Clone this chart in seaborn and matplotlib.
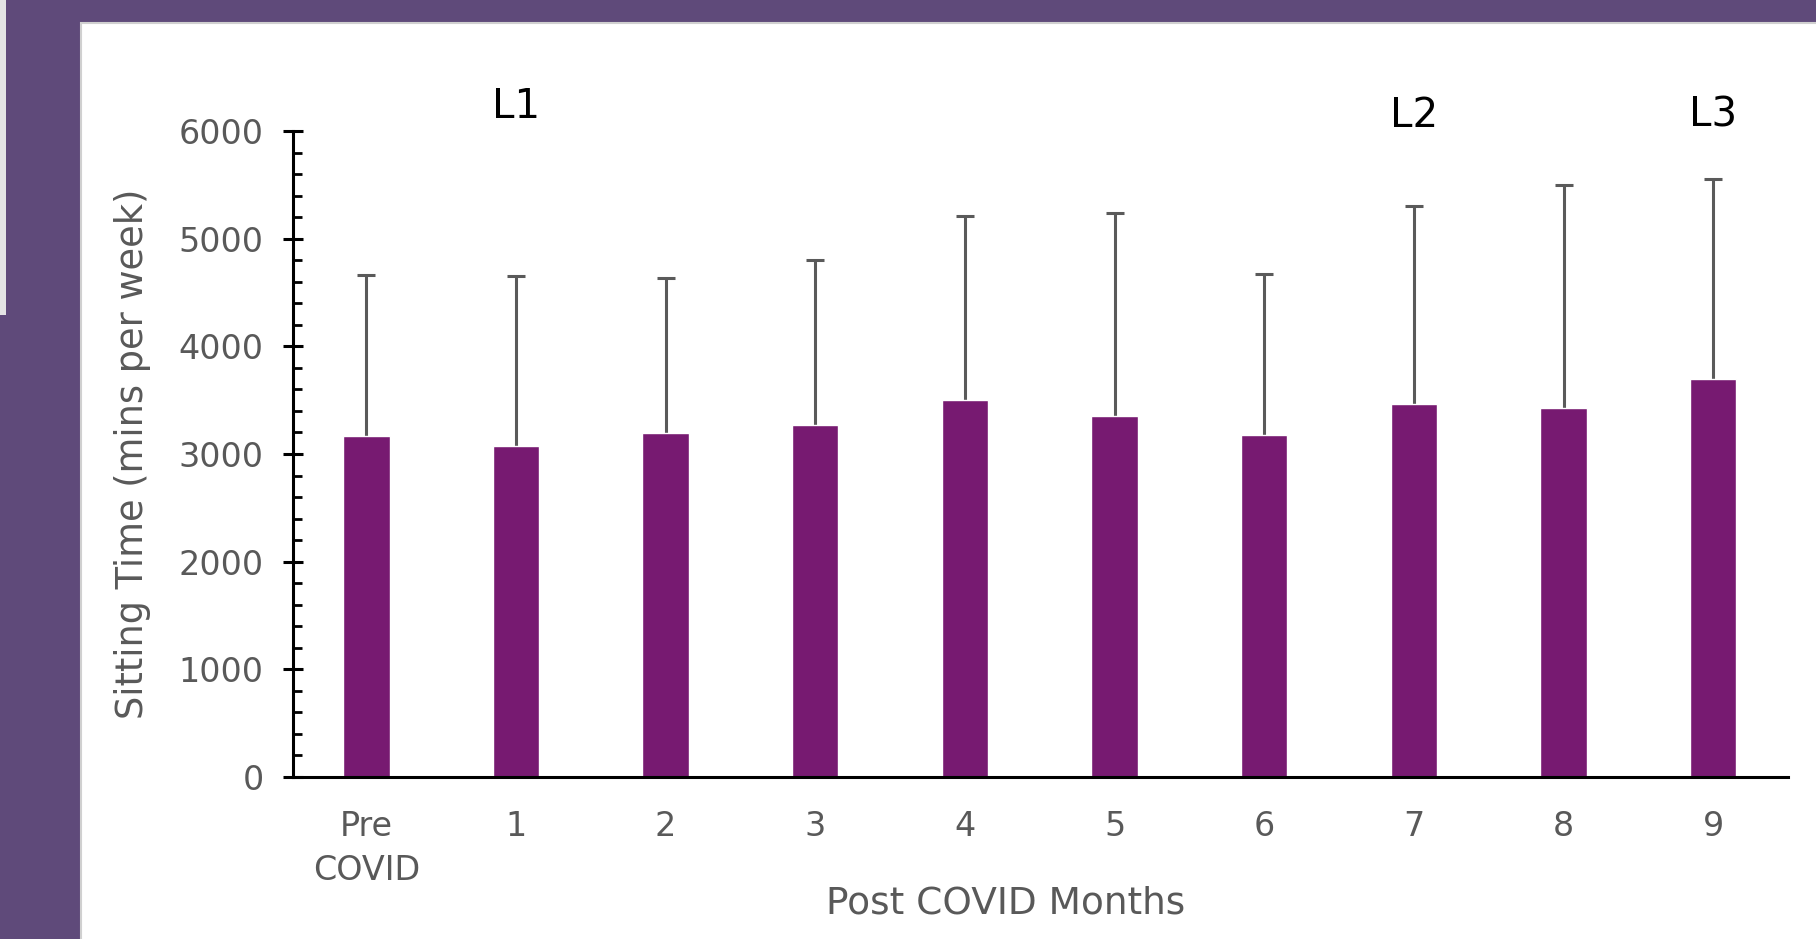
import matplotlib
matplotlib.use('Agg')
import matplotlib.pyplot as plt
import seaborn as sns
import numpy as np
import pandas as pd
from matplotlib.patches import Rectangle
from matplotlib.ticker import MultipleLocator

# values
months = ['Pre\nCOVID', '1', '2', '3', '4', '5', '6', '7', '8', '9']
sitting_mean = [3170, 3075, 3195, 3270, 3505, 3355, 3175, 3460, 3425, 3695]
sitting_sd = [1490, 1580, 1440, 1535, 1710, 1880, 1500, 1840, 2070, 1860]
phase_labels = ['L1', 'L2', 'L3']
phase_months = ['1', '7', '9']

BAR_COLOR = '#771a71'
BG_PURPLE = '#5f4a7a'
TEXT_GRAY = '#595959'
ERR_GRAY = '#5a5a5a'

df = pd.DataFrame({'month': months, 'mean': sitting_mean, 'sd': sitting_sd})

sns.set_style('white')
plt.rcParams['font.family'] = ['DejaVu Sans']

W, H = 1816, 939
fig = plt.figure(figsize=(W / 100, H / 100), dpi=100, facecolor=BG_PURPLE)

# white slide panel and the light strip at the left edge (kept behind the axes)
fig.patches.append(Rectangle((81 / W, -0.01), 1.0, (H - 23) / H + 0.01, transform=fig.transFigure,
                             facecolor='white', edgecolor='#d0d0d0', linewidth=1.5, zorder=-5))
fig.patches.append(Rectangle((0, (H - 315) / H), 6 / W, 1.0, transform=fig.transFigure,
                             facecolor='#e4e4e4', edgecolor='none', zorder=-5))

ax = fig.add_axes([293 / W, (H - 777) / H, 1495 / W, 646 / H])
ax.set_facecolor('none')

sns.barplot(data=df, x='month', y='mean', color=BAR_COLOR, saturation=1, width=0.31,
            errorbar=None, ax=ax, zorder=2)
# upper-only error bars (SD)
eb = ax.errorbar(x=np.arange(len(df)), y=df['mean'], yerr=[np.zeros(len(df)), df['sd']],
                 fmt='none', ecolor=ERR_GRAY, elinewidth=2.2, capsize=6.5, capthick=2.2, zorder=1)
eb[1][0].set_visible(False)

ax.set_xlim(-0.49, 9.5)
ax.set_ylim(0, 6000)

sns.despine(ax=ax)
for side in ['left', 'bottom']:
    ax.spines[side].set_color('black')
    ax.spines[side].set_linewidth(2.2)

ax.yaxis.set_major_locator(MultipleLocator(1000))
ax.yaxis.set_minor_locator(MultipleLocator(200))
ax.tick_params(axis='y', which='major', direction='inout', length=14, width=2.2, color='black',
               labelsize=24, labelcolor=TEXT_GRAY, pad=14, left=True)
ax.tick_params(axis='y', which='minor', direction='in', length=6.5, width=2, color='black', left=True)
ax.tick_params(axis='x', length=0, labelsize=24, labelcolor=TEXT_GRAY, pad=24)
for lbl in ax.get_xticklabels():
    lbl.set_linespacing(1.4)

ax.set_ylabel('Sitting Time (mins per week)', fontsize=26.5, color=TEXT_GRAY)
ax.yaxis.set_label_coords(-0.095, 0.5)
ax.set_xlabel('Post COVID Months', fontsize=27, color=TEXT_GRAY)
ax.xaxis.set_label_coords(0.477, -0.168)

# phase labels above the bars
for lab, m in zip(phase_labels, phase_months):
    idx = months.index(m)
    ty = 6220 if lab == 'L1' else 6140
    ax.text(idx, ty, lab, ha='center', va='center', fontsize=29, color='black', clip_on=False)

fig.savefig('out.png', dpi=100, facecolor=fig.get_facecolor())
